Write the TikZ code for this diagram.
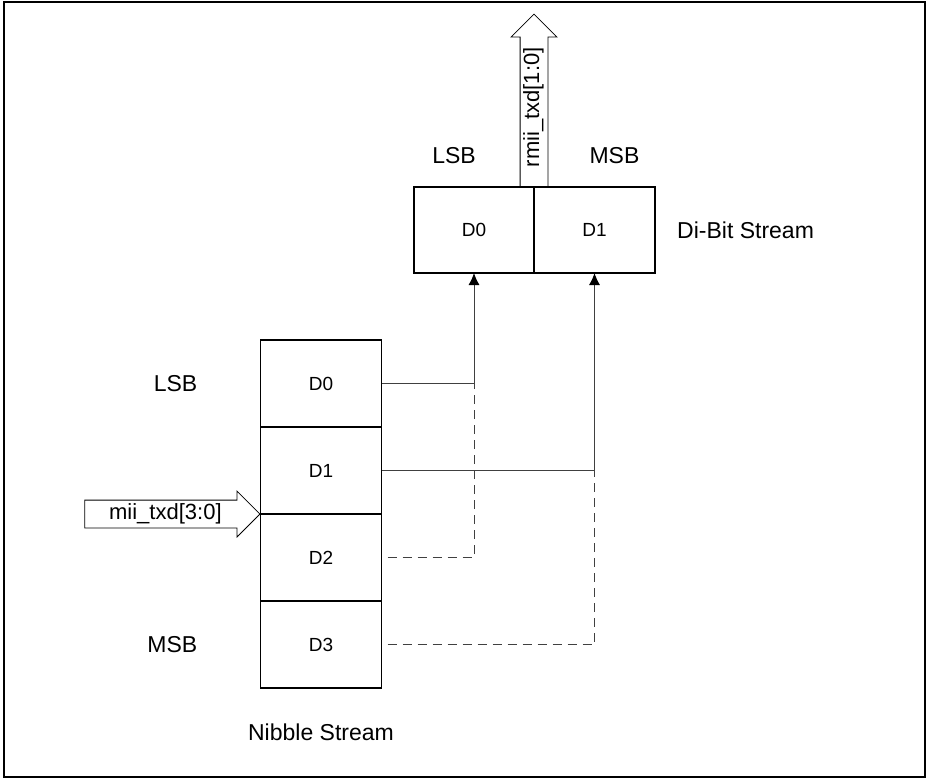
\documentclass[tikz,border=0pt]{standalone}
\usepackage{fontspec}
\setmainfont{Liberation Sans}
\usetikzlibrary{positioning, shapes.arrows, arrows.meta}

\begin{document}
\begin{tikzpicture}[x=1pt, y=1pt,
    bitbox/.style={draw, line width=1.6pt, minimum width=121pt, minimum height=87pt,
        inner sep=0pt, outer sep=0pt, font=\fontsize{19}{22}\selectfont},
    lbl/.style={font=\fontsize{23}{27}\selectfont, inner sep=0pt},
    busarrow/.style={draw, line width=0.8pt, single arrow, single arrow head extend=9pt,
        inner ysep=4.5pt, text height=14pt, text depth=4pt,
        font=\fontsize{22}{26}\selectfont},
    conn/.style={draw=black!75, line width=0.9pt, -{Latex[length=12pt, width=11pt, black]}},
    dashline/.style={draw=black!75, line width=0.9pt, dash pattern=on 9pt off 6pt}]

        % Ramka
        \useasboundingbox (0,0) rectangle (927,-779);
        \draw[line width=1.8pt] (4,-2) rectangle (925,-777);

        % Nibble Stream
        \node[bitbox] (n0) at (321,-383.5) {D0};
        \node[bitbox, below=0pt of n0] (n1) {D1};
        \node[bitbox, below=0pt of n1] (n2) {D2};
        \node[bitbox, below=0pt of n2] (n3) {D3};
        \node[lbl, left=63pt of n0] (nlsb) {LSB};
        \node[lbl, left=63pt of n3] (nmsb) {MSB};
        \node[lbl, below=36pt of n3] (nname) {Nibble Stream};

        % Di-Bit Stream
        \node[bitbox, minimum width=120pt, minimum height=86pt] (d0) at (474,-230) {D0};
        \node[bitbox, minimum height=86pt, right=0pt of d0] (d1) {D1};
        \node[lbl, above=23pt of d0, xshift=-20pt] (dlsb) {LSB};
        \node[lbl, above=23pt of d1, xshift=20pt] (dmsb) {MSB};
        \node[lbl, right=22pt of d1] (dname) {Di-Bit Stream};

        % Magistrale
        \node[busarrow, inner xsep=24pt, anchor=tip] (miibus) at (n1.south west) {mii\_txd[3:0]};
        \node[busarrow, inner xsep=19pt, rotate=90, anchor=tail] (rmiibus) at (d0.north east) {rmii\_txd[1:0]};

        % Polaczenia
        \draw[conn] (n0.east) -| (d0.south);
        \draw[conn] (n1.east) -| (d1.south);
        \draw[dashline] ([xshift=6pt]n2.east) -| (n0.east -| d0.south);
        \draw[dashline] ([xshift=6pt]n3.east) -| (n1.east -| d1.south);
    \end{tikzpicture}
\end{document}
